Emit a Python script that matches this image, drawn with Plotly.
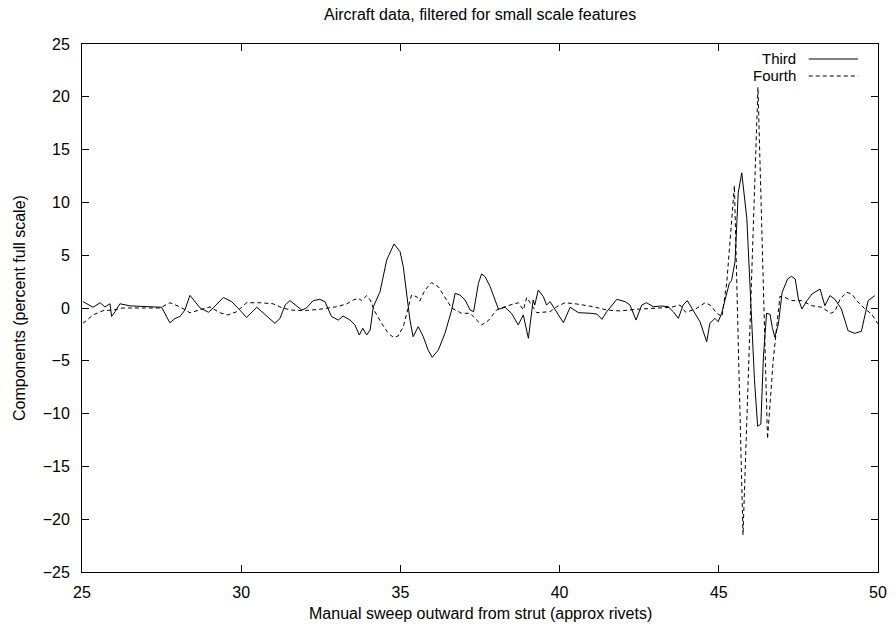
import plotly.graph_objects as go

# ---- data (x in rivets, y in percent full scale) ----
third_x = [25.03, 25.19, 25.35, 25.57, 25.72, 25.88, 25.93, 26.04, 26.19, 26.51, 26.98, 27.50,
           27.76, 27.92, 28.08, 28.23, 28.39, 28.55, 28.71, 28.97, 29.12, 29.44, 29.70, 29.96,
           30.17, 30.49, 30.80, 31.06, 31.22, 31.38, 31.53, 31.69, 31.90, 32.05, 32.26, 32.47,
           32.63, 32.84, 33.05, 33.20, 33.42, 33.57, 33.71, 33.82, 33.94, 34.05, 34.15, 34.36,
           34.57, 34.80, 34.99, 35.09, 35.20, 35.30, 35.40, 35.56, 35.72, 35.87, 36.00, 36.19,
           36.40, 36.61, 36.72, 36.87, 37.03, 37.19, 37.30, 37.45, 37.55, 37.66, 37.82, 38.08,
           38.29, 38.49, 38.70, 38.86, 39.02, 39.12, 39.17, 39.22, 39.33, 39.49, 39.59, 39.70,
           39.91, 40.12, 40.33, 40.59, 40.96, 41.17, 41.33, 41.48, 41.80, 42.06, 42.21, 42.40,
           42.58, 42.73, 42.94, 43.20, 43.41, 43.57, 43.73, 43.88, 44.01, 44.20, 44.41, 44.62,
           44.72, 44.88, 44.98, 45.09, 45.19, 45.33, 45.40, 45.51, 45.61, 45.72, 45.88, 46.00,
           46.12, 46.22, 46.32, 46.40, 46.50, 46.61, 46.68, 46.76, 46.87, 46.99, 47.16, 47.28,
           47.40, 47.50, 47.61, 47.77, 47.93, 48.18, 48.33, 48.49, 48.64, 48.85, 49.06, 49.27,
           49.48, 49.69, 49.90]
third_y = [0.6, 0.3, 0.07, 0.5, 0.1, 0.4, -0.8, -0.35, 0.4, 0.2, 0.15, 0.07,
           -1.4, -1.0, -0.8, -0.2, 1.2, 0.6, 0.0, -0.4, 0.0, 1.0, 0.6, -0.2,
           -0.9, 0.07, -0.8, -1.45, -0.98, 0.28, 0.7, 0.28, -0.19, 0.0, 0.7, 0.82,
           0.6, -0.82, -1.14, -0.76, -1.14, -1.6, -2.56, -1.92, -2.56, -2.08, 0.12, 1.54,
           4.55, 6.06, 5.33, 3.91, 1.07, -1.14, -2.72, -1.77, -2.72, -3.98, -4.67, -3.98,
           -2.4, -0.19, 1.39, 1.23, 0.76, -0.19, -0.35, 2.34, 3.22, 2.97, 2.02, -0.12,
           0.07, -0.5, -1.6, -0.66, -2.87, -0.35, 0.76, 0.28, 1.7, 1.07, 0.28, 0.6,
           -0.35, -1.39, 0.07, -0.44, -0.5, -0.57, -1.07, -0.35, 0.82, 0.6, 0.28, -1.14,
           0.28, 0.5, 0.12, 0.19, 0.12, -0.35, -0.98, 0.28, 0.7, -0.19, -1.3, -3.2,
           -1.45, -0.98, -1.3, -0.5, 0.76, 2.34, 2.6, 4.4, 10.9, 12.8, 8.5, 0.4,
           -6.8, -11.2, -11.0, -4.7, -0.5, -0.6, -1.83, -2.77, -1.52, 1.49, 2.75, 3.0,
           2.75, 0.85, -0.09, 0.7, 1.33, 1.8, 0.22, 1.17, 0.85, -0.09, -2.15, -2.4,
           -2.2, 0.7, 1.17, 1.49, 1.64]

fourth_x = [25.03, 25.35, 25.66, 25.97, 26.29, 27.45, 27.76, 28.08, 28.39, 28.71, 29.02, 29.33,
            29.58, 29.86, 30.17, 30.59, 31.00, 31.22, 31.53, 31.95, 32.47, 32.99, 33.31, 33.52,
            33.68, 33.78, 33.94, 34.05, 34.20, 34.41, 34.62, 34.78, 34.93, 35.09, 35.20, 35.35,
            35.51, 35.61, 35.77, 35.98, 36.19, 36.40, 36.61, 36.92, 37.19, 37.34, 37.55, 37.76,
            38.02, 38.34, 38.71, 38.86, 38.97, 39.12, 39.28, 39.70, 39.91, 40.17, 40.54, 41.06,
            41.48, 41.90, 42.40, 43.13, 43.50, 43.78, 43.96, 44.27, 44.57, 44.73, 44.94, 45.10,
            45.25, 45.49, 45.76, 46.23, 46.53, 46.71, 46.92, 47.08, 47.29, 47.60, 47.92, 48.23,
            48.52, 48.65, 48.81, 49.02, 49.18, 49.33, 49.59, 49.80, 50.00]
fourth_y = [-1.45, -0.66, -0.25, -0.2, 0.0, 0.0, 0.5, 0.1, -0.45, -0.2, 0.1, -0.45,
            -0.66, -0.35, 0.5, 0.5, 0.4, 0.1, -0.19, -0.25, -0.12, 0.12, 0.38, 0.76,
            0.92, 0.7, 1.17, 0.76, -0.35, -1.45, -2.4, -2.78, -2.65, -1.77, -0.5, 1.23,
            1.07, 0.66, 1.7, 2.4, 2.02, 1.07, 0.0, -0.5, -0.5, -0.98, -1.6, -1.2,
            -0.19, 0.19, 0.5, -0.19, 1.0, 0.28, -0.44, -0.35, 0.12, 0.5, 0.38, 0.12,
            -0.19, -0.28, -0.12, 0.0, 0.07, 0.28, -0.4, -0.1, 0.5, 0.28, -0.5, -0.82,
            2.4, 11.6, -21.5, 20.9, -12.4, -4.9, 1.1, 1.0, 0.7, 0.7, 0.22, 0.07,
            -0.5, -0.3, 0.85, 1.49, 1.33, 0.7, -0.09, -0.57, -1.5]

series_names = ["Third", "Fourth"]
x_ticks = [25, 30, 35, 40, 45, 50]
y_ticks = [-25, -20, -15, -10, -5, 0, 5, 10, 15, 20, 25]

FONT = "Liberation Sans, Arial, sans-serif"
FS = 16
KEY_FS = 15
DASH = "4px,3px"

fig = go.Figure()
fig.add_trace(go.Scatter(x=third_x, y=third_y, mode="lines", name=series_names[0],
                         line=dict(color="black", width=1), showlegend=False))
fig.add_trace(go.Scatter(x=fourth_x, y=fourth_y, mode="lines", name=series_names[1],
                         line=dict(color="black", width=1, dash=DASH), showlegend=False))

axis_common = dict(showgrid=False, zeroline=False, showline=True, linecolor="black",
                   linewidth=1, mirror="allticks", ticks="inside", ticklen=7,
                   tickcolor="black", tickwidth=1, automargin=False,
                   tickfont=dict(family=FONT, size=FS, color="black"))
fig.update_xaxes(range=[25, 50], tickvals=x_ticks, ticklabelstandoff=6, **axis_common)
fig.update_yaxes(range=[-25, 25], tickvals=y_ticks, ticklabelstandoff=8, **axis_common)

annotations = [
    dict(text="Aircraft data, filtered for small scale features", xref="paper", yref="paper",
         x=0.5, y=1, yshift=30, showarrow=False, font=dict(family=FONT, size=FS, color="black"),
         xanchor="center", yanchor="middle"),
    dict(text="Manual sweep outward from strut (approx rivets)", xref="paper", yref="paper",
         x=0.5, y=0, yshift=-41, showarrow=False, font=dict(family=FONT, size=FS, color="black"),
         xanchor="center", yanchor="middle"),
    dict(text="Components (percent full scale)", xref="paper", yref="paper",
         x=0, y=0.5, xshift=-63, textangle=-90, showarrow=False,
         font=dict(family=FONT, size=FS, color="black"), xanchor="center", yanchor="middle"),
]
# gnuplot-style key: text on the left, line sample on the right
key_rows = [(series_names[0], 0.9716, None), (series_names[1], 0.9394, DASH)]
shapes = []
for name, yy, dash in key_rows:
    annotations.append(dict(text=name, xref="paper", yref="paper", x=0.899, y=yy,
                            showarrow=False, xanchor="right", yanchor="middle",
                            font=dict(family=FONT, size=KEY_FS, color="black")))
    line = dict(color="black", width=1)
    if dash:
        line["dash"] = dash
    shapes.append(dict(type="line", xref="paper", yref="paper", x0=0.913, x1=0.975,
                       y0=yy, y1=yy, line=line))

fig.update_layout(width=896, height=630, margin=dict(l=82, r=18, t=44, b=58),
                  paper_bgcolor="white", plot_bgcolor="white",
                  annotations=annotations, shapes=shapes, showlegend=False,
                  font=dict(family=FONT, size=FS, color="black"))

# remove the page's default 8px body margin so the figure fills the window exactly
fig.write_html("out.html", config={"displayModeBar": False},
               post_script="document.body.style.margin='0px';document.body.style.overflow='hidden';")
